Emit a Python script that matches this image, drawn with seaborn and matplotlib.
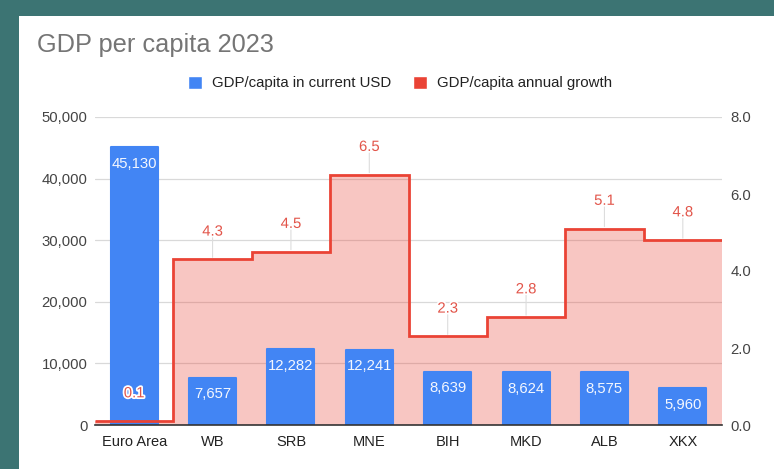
import numpy as np
import pandas as pd
import matplotlib
matplotlib.use("Agg")
import matplotlib.pyplot as plt
import matplotlib.patheffects as pe
from matplotlib.patches import Rectangle, Patch
import seaborn as sns

# Data
regions = ["Euro Area", "WB", "SRB", "MNE", "BIH", "MKD", "ALB", "XKX"]
gdp_per_capita = [45130, 7657, 12282, 12241, 8639, 8624, 8575, 5960]
gdp_growth = [0.1, 4.3, 4.5, 6.5, 2.3, 2.8, 5.1, 4.8]
left_ticks = [0, 10000, 20000, 30000, 40000, 50000]
right_ticks = [0.0, 2.0, 4.0, 6.0, 8.0]

BLUE = "#4285F4"
RED = "#EA4335"
LABEL_RED = "#E2554A"
TEXT = "#444444"
FS = 10.7

sns.set_theme(style="white")
plt.rcParams["font.family"] = ["Liberation Sans", "DejaVu Sans"]

df = pd.DataFrame({"region": regions, "gdp": gdp_per_capita, "growth": gdp_growth})

fig = plt.figure(figsize=(7.74, 4.69), dpi=100, facecolor="#3C7473")
# white card
fig.patches.append(Rectangle((19 / 774, 0), 1 - 19 / 774, 1 - 16 / 469,
                             transform=fig.transFigure, facecolor="white",
                             edgecolor="none", zorder=-1))

ax = fig.add_axes([95 / 774, 1 - 425 / 469, 627 / 774, 308 / 469])
ax.set_facecolor("none")
ax2 = ax.twinx()

n = len(regions)
edges = np.arange(n + 1) - 0.5

# growth area (behind bars), drawn in growth units
ax.stairs(df["growth"], edges, baseline=0, fill=True, color=RED, alpha=0.3,
          linewidth=0, transform=ax2.transData, zorder=1)

# thin leader lines from each growth label down to the step (behind bars)
for i, g in enumerate(df["growth"]):
    ax.annotate("", xy=(i, g), xycoords=ax2.transData,
                xytext=(0, 16), textcoords="offset points",
                arrowprops=dict(arrowstyle="-", color="#DDDDDD", lw=0.8,
                                shrinkA=0, shrinkB=1.5),
                zorder=1.5)

# GDP per capita bars (slightly rounded corners via a round-joined edge)
sns.barplot(data=df, x="region", y="gdp", color=BLUE, width=0.6,
            saturation=1, linewidth=1.5, edgecolor=BLUE, ax=ax, zorder=2)
for bar in ax.patches:
    if isinstance(bar, Rectangle):
        bar.set_joinstyle("round")

for i, v in enumerate(df["gdp"]):
    ax.annotate(f"{v:,}", xy=(i, v), xytext=(0, -12), textcoords="offset points",
                ha="center", va="center", color="#F4F7FE", fontsize=FS, zorder=5)

# growth step line and value labels
ax2.stairs(df["growth"], edges, baseline=None, color=RED, linewidth=2, zorder=3)
for i, g in enumerate(df["growth"]):
    ax2.annotate(f"{g:.1f}", xy=(i, g), xytext=(0, 15), textcoords="offset points",
                 ha="center", va="bottom", color=LABEL_RED, fontsize=FS,
                 path_effects=[pe.withStroke(linewidth=2.5, foreground="white")],
                 zorder=6)

# axes styling
ax.set_xlim(-0.5, n - 0.5)
ax.set_ylim(0, 50000)
ax2.set_ylim(0, 8)
ax.set_yticks(left_ticks)
ax.set_yticklabels([f"{t:,}" for t in left_ticks])
ax2.set_yticks(right_ticks)
ax2.set_yticklabels([f"{t:.1f}" for t in right_ticks])
ax.yaxis.grid(True, color="#D9D9D9", linewidth=0.9)
ax.set_axisbelow(True)
ax.set_xlabel("")
ax.set_ylabel("")
for a in (ax, ax2):
    for s in a.spines.values():
        s.set_visible(False)
    a.tick_params(length=0, labelsize=FS, labelcolor=TEXT)
ax.spines["bottom"].set_visible(True)
ax.spines["bottom"].set_color("#333333")
ax.spines["bottom"].set_linewidth(1.2)
ax.spines["bottom"].set_zorder(4)
ax.tick_params(axis="x", pad=7, labelcolor="#222222", labelsize=10.5)
ax.tick_params(axis="y", pad=5.5)
ax2.tick_params(axis="y", pad=6)

# title and legend
fig.text(37 / 774, 1 - 45 / 469, "GDP per capita 2023", fontsize=18.3,
         color="#757575", va="center", ha="left")
handles = [Patch(facecolor=BLUE, label="GDP/capita in current USD"),
           Patch(facecolor=RED, label="GDP/capita annual growth")]
fig.legend(handles=handles, loc="center", bbox_to_anchor=(400 / 774, 1 - 83 / 469),
           ncol=2, frameon=False, fontsize=10.8, handlelength=0.95, handleheight=0.95,
           handletextpad=0.65, columnspacing=1.45, labelcolor="#222222")

fig.savefig("out.png", dpi=100, facecolor=fig.get_facecolor())
